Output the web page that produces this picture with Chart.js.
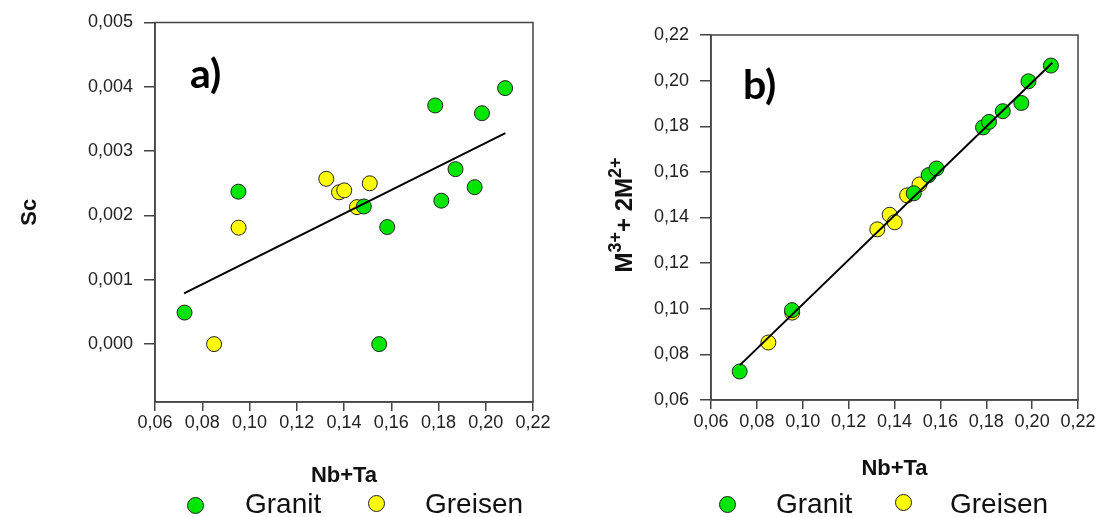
<!DOCTYPE html>
<html>
<head>
<meta charset="utf-8">
<script src="https://cdn.jsdelivr.net/npm/chart.js@4/dist/chart.umd.min.js"></script>
<style>
  body { margin: 0; background: #fff; width: 1096px; height: 517px; overflow: hidden; position: relative; font-family: "Liberation Sans", Arial, sans-serif; }
  canvas { position: absolute; top: 0; }
  #chartA { left: 0; }
  #chartB { left: 550px; }
  .legend-dot { position: absolute; width: 15px; height: 15px; border-radius: 50%; border: 1px solid #222; }
  .legend-txt { position: absolute; font-size: 28px; color: #111; line-height: 34px; top: 487px; }
</style>
</head>
<body>
<canvas id="chartA" width="550" height="490"></canvas>
<canvas id="chartB" width="546" height="490"></canvas>

<div class="legend-dot" style="left:187px;top:497px;background:#00e600"></div>
<div class="legend-txt" style="left:245px">Granit</div>
<div class="legend-dot" style="left:368px;top:495px;background:#ffff00"></div>
<div class="legend-txt" style="left:425px">Greisen</div>

<div class="legend-dot" style="left:719px;top:496px;background:#00e600"></div>
<div class="legend-txt" style="left:776px">Granit</div>
<div class="legend-dot" style="left:895px;top:494px;background:#ffff00"></div>
<div class="legend-txt" style="left:950px">Greisen</div>

<script>
// --- Data ---
const granitNbTa = [0.0725, 0.0953, 0.1484, 0.1549, 0.1583, 0.1786, 0.1812, 0.1872, 0.1953, 0.1984, 0.2082];
const granitSc   = [0.00049, 0.00237, 0.00214, 0.00000, 0.00182, 0.00371, 0.00223, 0.00272, 0.00244, 0.00359, 0.00398];
const granitM    = [0.0725, 0.0994, 0.1506, 0.1586, 0.1615, 0.1795, 0.1819, 0.1866, 0.1902, 0.1997, 0.2066];

const greisenNbTa = [0.0850, 0.0954, 0.1325, 0.1379, 0.1401, 0.1455, 0.1509];
const greisenSc   = [0.00000, 0.00181, 0.00257, 0.00236, 0.00239, 0.00213, 0.00250];
const greisenM    = [0.0852, 0.0983, 0.1348, 0.1412, 0.1379, 0.1497, 0.1545];

// regression lines (end points)
const trendANbTa = [0.0723, 0.2083];
const trendASc   = [0.00079, 0.00328];
const trendBNbTa = [0.0726, 0.2088];
const trendBM    = [0.0753, 0.2078];

const nbTaTicks = [0.06, 0.08, 0.10, 0.12, 0.14, 0.16, 0.18, 0.20, 0.22];
const scTicks   = [0, 0.001, 0.002, 0.003, 0.004, 0.005];
const mTicks    = [0.06, 0.08, 0.10, 0.12, 0.14, 0.16, 0.18, 0.20, 0.22];

const GREEN = '#00e600';
const YELLOW = '#ffff00';
const AXIS = '#444';
const FONT = "'Liberation Sans', Arial, sans-serif";

const toPoints = (xs, ys) => xs.map((x, i) => ({ x: x, y: ys[i] }));
const comma = (v, d) => v.toFixed(d).replace('.', ',');

// frame + panel letter + optional y title with real superscripts
const framePlugin = {
    id: 'frame',
    afterDraw(chart, args, opts) {
        const { ctx, chartArea: a } = chart;
        ctx.save();
        ctx.strokeStyle = AXIS;
        ctx.lineWidth = 1.5;
        ctx.strokeRect(a.left, a.top, a.right - a.left, a.bottom - a.top);
        ctx.fillStyle = '#000';
        ctx.font = "bold 41px Lato, 'Open Sans', sans-serif";
        ctx.textBaseline = 'alphabetic';
        ctx.fillText(opts.text, opts.x, opts.y);

        if (opts.yTitle) {
            // parts: [text, superscript?]
            const parts = opts.yTitle;
            const big = 'bold 24px ' + FONT, small = 'bold 18px ' + FONT;
            let total = 0;
            parts.forEach(p => { ctx.font = p[1] ? small : big; total += ctx.measureText(p[0]).width; });
            ctx.translate(opts.yTitleX, opts.yTitleY);
            ctx.rotate(-Math.PI / 2);
            ctx.fillStyle = '#111';
            ctx.textBaseline = 'middle';
            let x = -total / 2;
            parts.forEach(p => {
                ctx.font = p[1] ? small : big;
                ctx.fillText(p[0], x, p[1] ? -9 : 0);
                x += ctx.measureText(p[0]).width;
            });
        }
        ctx.restore();
    }
};

function makeChart(id, cfg) {
    const ctx = document.getElementById(id).getContext('2d');
    return new Chart(ctx, {
        type: 'scatter',
        data: {
            datasets: [
                {
                    label: 'trend',
                    data: toPoints(cfg.trendX, cfg.trendY),
                    showLine: true,
                    borderColor: '#000',
                    borderWidth: 2,
                    pointRadius: 0
                },
                {
                    label: 'Granit',
                    data: toPoints(granitNbTa, cfg.granitY),
                    backgroundColor: GREEN,
                    borderColor: '#222',
                    borderWidth: 1,
                    pointRadius: 7.5
                },
                {
                    label: 'Greisen',
                    data: toPoints(greisenNbTa, cfg.greisenY),
                    backgroundColor: YELLOW,
                    borderColor: '#222',
                    borderWidth: 1,
                    pointRadius: 7.5
                }
            ]
        },
        options: {
            responsive: false,
            animation: false,
            layout: { padding: { top: cfg.top, right: cfg.right, left: 0, bottom: 0 } },
            plugins: {
                legend: { display: false },
                tooltip: { enabled: false },
                frame: cfg.tag
            },
            scales: {
                x: {
                    type: 'linear',
                    min: 0.06,
                    max: 0.22,
                    afterBuildTicks: s => { s.ticks = nbTaTicks.map(v => ({ value: v })); },
                    afterFit: s => { s.height = 490 - cfg.bottom; s.paddingLeft = 0; s.paddingRight = 0; },
                    grid: { drawOnChartArea: false, color: AXIS, tickLength: 9, lineWidth: 1.5 },
                    border: { color: AXIS, width: 1.5 },
                    ticks: {
                        color: '#222',
                        font: { family: FONT, size: 18 },
                        padding: cfg.xTickPad,
                        maxRotation: 0,
                        callback: v => comma(v, 2)
                    },
                    title: {
                        display: true,
                        text: 'Nb+Ta',
                        color: '#111',
                        font: { family: FONT, size: 22, weight: 'bold' },
                        padding: { top: 0, bottom: cfg.xTitlePad }
                    }
                },
                y: {
                    type: 'linear',
                    min: cfg.yMin,
                    max: cfg.yMax,
                    afterBuildTicks: s => { s.ticks = cfg.yTicks.map(v => ({ value: v })); },
                    afterFit: s => { s.width = cfg.left; s.paddingTop = 0; s.paddingBottom = 0; },
                    grid: { drawOnChartArea: false, color: AXIS, tickLength: 11, lineWidth: 1.5 },
                    border: { color: AXIS, width: 1.5 },
                    ticks: {
                        color: '#222',
                        font: { family: FONT, size: 18 },
                        padding: 11,
                        callback: v => comma(v, cfg.yDec)
                    },
                    title: {
                        display: !!cfg.yTitle,
                        text: cfg.yTitle || '',
                        color: '#111',
                        font: { family: FONT, size: 22, weight: 'bold' },
                        padding: { top: cfg.yTitlePad, bottom: 0 }
                    }
                }
            }
        },
        plugins: [framePlugin]
    });
}

makeChart('chartA', {
    trendX: trendANbTa, trendY: trendASc,
    granitY: granitSc, greisenY: greisenSc,
    yMin: -0.0009, yMax: 0.005, yTicks: scTicks, yDec: 3,
    yTitle: 'Sc',
    left: 155, right: 17, top: 22.5, bottom: 402,
    xTickPad: 1, xTitlePad: 1, yTitlePad: 17,
    tag: { text: 'a)', x: 190, y: 88 }
});

makeChart('chartB', {
    trendX: trendBNbTa, trendY: trendBM,
    granitY: granitM, greisenY: greisenM,
    yMin: 0.06, yMax: 0.22, yTicks: mTicks, yDec: 2,
    yTitle: null,
    left: 161, right: 18, top: 35, bottom: 400,
    xTickPad: 2, xTitlePad: 8, yTitlePad: 60,
    tag: {
        text: 'b)', x: 193, y: 99,
        yTitle: [['M', false], ['3+', true], ['+ 2M', false], ['2+', true]],
        yTitleX: 75, yTitleY: 215
    }
});
</script>
</body>
</html>
